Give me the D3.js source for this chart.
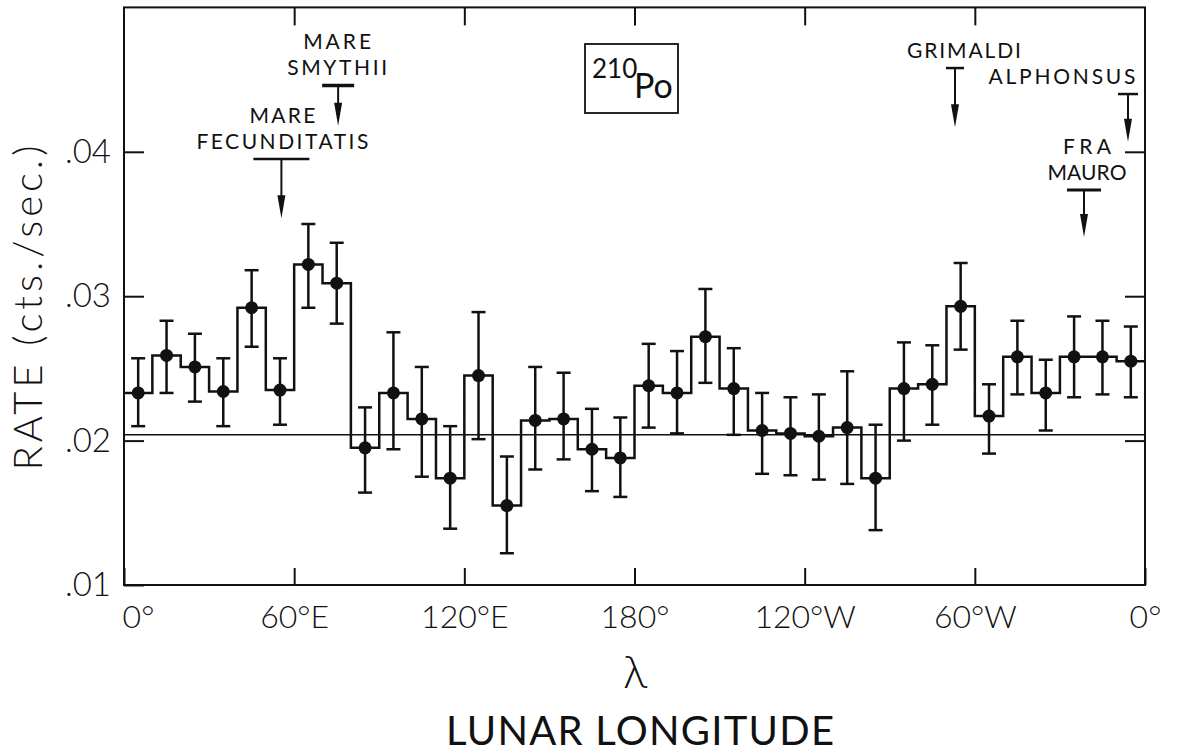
<!DOCTYPE html>
<html>
<head>
<meta charset="utf-8">
<script src="https://cdn.jsdelivr.net/npm/d3@7"></script>
<style>
  body { margin: 0; background: #fff; }
  text { font-family: Lato, "DejaVu Sans", sans-serif; font-weight: 300; fill: #111; }
  .lbl { font-weight: 400; }
</style>
</head>
<body>
<div id="chart"></div>
<script>
// lunar longitude, 0 -> 360 (east then west)
var lonTicks = [0, 60, 120, 180, 240, 300, 360];
var lonTickLabels = ["0°", "60°E", "120°E", "180°", "120°W", "60°W", "0°"];
var rateTicks = [0.01, 0.02, 0.03, 0.04];
var rateTickLabels = [".01", ".02", ".03", ".04"];

// 10 degree bins
var binCenters = [5, 15, 25, 35, 45, 55, 65, 75, 85, 95, 105, 115, 125, 135, 145, 155, 165, 175,
                  185, 195, 205, 215, 225, 235, 245, 255, 265, 275, 285, 295, 305, 315, 325, 335, 345, 355];
var rate = [.0233, .0259, .0251, .0234, .0292, .0235, .0322, .0309, .0195, .0233, .0215, .0174,
            .0245, .0155, .0214, .0215, .0194, .0188, .0238, .0233, .0272, .0236, .0207, .0205,
            .0203, .0209, .0174, .0236, .0239, .0293, .0217, .0258, .0233, .0258, .0258, .0255];
var rateHi = [.0257, .0283, .0274, .0257, .0318, .0257, .0350, .0337, .0223, .0275, .0251, .0210,
              .0289, .0189, .0251, .0247, .0222, .0216, .0267, .0262, .0305, .0264, .0233, .0230,
              .0232, .0248, .0211, .0268, .0266, .0323, .0239, .0283, .0256, .0286, .0283, .0279];
var rateLo = [.0210, .0233, .0227, .0210, .0265, .0211, .0292, .0281, .0164, .0194, .0175, .0139,
              .0201, .0122, .0180, .0187, .0165, .0161, .0209, .0205, .0240, .0204, .0177, .0176,
              .0173, .0170, .0138, .0200, .0211, .0263, .0191, .0232, .0207, .0230, .0232, .0230];
var meanRate = 0.0204;

// features marked with arrows
var craterNames = [["MARE", "FECUNDITATIS"], ["MARE", "SMYTHII"], ["GRIMALDI"], ["ALPHONSUS"], ["FRA", "MAURO"]];
var craterLon = [55.5, 75.5, 293, 354, 338.5];
var craterBar = [.0395, .0446, .0458, .0440, .03735];
var craterTip = [.0354, .0418, .0417, .0407, .0341];

var width = 1179, height = 756;

var svg = d3.select("#chart").append("svg")
    .attr("width", width).attr("height", height)
    .style("display", "block");

var x = d3.scaleLinear().domain([0, 360]).range([124, 1145]);
var y = d3.scaleLinear().domain([0.01, 0.05]).range([585, 7.4]);

// frame
svg.append("rect")
    .attr("x", x(0)).attr("y", y(0.05))
    .attr("width", x(360) - x(0)).attr("height", y(0.01) - y(0.05))
    .attr("fill", "none").attr("stroke", "#111").attr("stroke-width", 2);

// axes with inward ticks
var gLeft = svg.append("g").attr("transform", "translate(" + x(0) + ",0)")
    .call(d3.axisLeft(y).tickValues(rateTicks).tickSize(-20).tickPadding(13)
        .tickFormat(function(d, i) { return rateTickLabels[i]; }));
var gRight = svg.append("g").attr("transform", "translate(" + x(360) + ",0)")
    .call(d3.axisRight(y).tickValues(rateTicks.slice(1)).tickSize(-20).tickFormat(""));
var gBottom = svg.append("g").attr("transform", "translate(0," + y(0.01) + ")")
    .call(d3.axisBottom(x).tickValues(lonTicks).tickSize(-17).tickPadding(20)
        .tickFormat(function(d, i) { return lonTickLabels[i]; }));
var gTop = svg.append("g").attr("transform", "translate(0," + y(0.05) + ")")
    .call(d3.axisTop(x).tickValues(lonTicks.slice(1, -1)).tickSize(-18).tickFormat(""));

[gLeft, gRight, gBottom, gTop].forEach(function(g) {
  g.select(".domain").remove();
  g.selectAll(".tick line").attr("stroke", "#111").attr("stroke-width", 2);
});
gLeft.selectAll(".tick text").attr("font-size", 33).attr("fill", "#111")
    .style("font-family", "Lato, sans-serif");
gBottom.selectAll(".tick text").attr("font-size", 32).attr("fill", "#111")
    .style("font-family", "Lato, sans-serif")
    .attr("dx", function(d, i) { return i === 0 ? 14 : 0; });

// mean level
svg.append("line")
    .attr("x1", x(0)).attr("x2", x(360))
    .attr("y1", y(meanRate)).attr("y2", y(meanRate))
    .attr("stroke", "#111").attr("stroke-width", 1.5);

// histogram steps
var stepPts = [[0, rate[0]]];
binCenters.forEach(function(c, i) { stepPts.push([c, rate[i]]); });
stepPts.push([360, rate[rate.length - 1]]);
svg.append("path")
    .datum(stepPts)
    .attr("d", d3.line().x(function(d) { return x(d[0]); }).y(function(d) { return y(d[1]); }).curve(d3.curveStep))
    .attr("fill", "none").attr("stroke", "#111").attr("stroke-width", 2.5);

// error bars
var bars = svg.append("g").selectAll("g").data(binCenters).enter().append("g");
bars.append("line")
    .attr("x1", function(d) { return x(d); }).attr("x2", function(d) { return x(d); })
    .attr("y1", function(d, i) { return y(rateLo[i]); })
    .attr("y2", function(d, i) { return y(rateHi[i]); })
    .attr("stroke", "#111").attr("stroke-width", 2.5);
bars.append("line")
    .attr("x1", function(d) { return x(d) - 7; }).attr("x2", function(d) { return x(d) + 7; })
    .attr("y1", function(d, i) { return y(rateHi[i]); })
    .attr("y2", function(d, i) { return y(rateHi[i]); })
    .attr("stroke", "#111").attr("stroke-width", 2.5);
bars.append("line")
    .attr("x1", function(d) { return x(d) - 7; }).attr("x2", function(d) { return x(d) + 7; })
    .attr("y1", function(d, i) { return y(rateLo[i]); })
    .attr("y2", function(d, i) { return y(rateLo[i]); })
    .attr("stroke", "#111").attr("stroke-width", 2.5);
bars.append("circle")
    .attr("cx", function(d) { return x(d); })
    .attr("cy", function(d, i) { return y(rate[i]); })
    .attr("r", 6.5).attr("fill", "#111");

// arrows + labels
var barHalf = [28, 16, 9, 10, 17];
var barW = [2.5, 3.5, 2.5, 2.5, 3];
var labelDx = [1, -1, 9, -66, 3];
var labelLen = [[66, 172], [68, 100], [114], [147], [48, 79]];
var g = svg.append("g");
craterNames.forEach(function(lines, i) {
  var cx = x(craterLon[i]), by = y(craterBar[i]), ty = y(craterTip[i]);
  g.append("line").attr("x1", cx - barHalf[i]).attr("x2", cx + barHalf[i])
      .attr("y1", by).attr("y2", by).attr("stroke", "#111").attr("stroke-width", barW[i]);
  g.append("line").attr("x1", cx).attr("x2", cx).attr("y1", by).attr("y2", ty - 10)
      .attr("stroke", "#111").attr("stroke-width", 2);
  g.append("path")
      .attr("d", "M" + (cx - 4) + "," + (ty - 23) + "L" + (cx + 4) + "," + (ty - 23) + "L" + cx + "," + ty + "Z")
      .attr("fill", "#111");
  lines.forEach(function(t, j) {
    var n = lines.length;
    g.append("text").attr("class", "lbl")
        .attr("x", cx + labelDx[i]).attr("y", by - 10 - (n - 1 - j) * 26)
        .attr("text-anchor", "middle").attr("font-size", 21)
        .attr("textLength", labelLen[i][j]).attr("lengthAdjust", "spacing")
        .text(t);
  });
});

// isotope box
svg.append("rect").attr("x", 585).attr("y", 44).attr("width", 93).attr("height", 69)
    .attr("fill", "none").attr("stroke", "#111").attr("stroke-width", 1.8);
svg.append("text").attr("class", "lbl").attr("x", 592).attr("y", 78).attr("font-size", 26).text("210");
svg.append("text").attr("class", "lbl").attr("x", 634).attr("y", 98).attr("font-size", 34).text("Po");

// axis titles
svg.append("text")
    .attr("transform", "translate(42,308) rotate(-90)")
    .attr("text-anchor", "middle").attr("font-size", 40)
    .attr("textLength", 325).attr("lengthAdjust", "spacing")
    .text("RATE (cts./sec.)");
svg.append("text")
    .attr("x", 635).attr("y", 688).attr("text-anchor", "middle").attr("font-size", 46)
    .text("λ");
svg.append("text").attr("class", "lbl")
    .attr("x", 640).attr("y", 745).attr("text-anchor", "middle").attr("font-size", 40)
    .attr("textLength", 388).attr("lengthAdjust", "spacing")
    .text("LUNAR LONGITUDE");
</script>
</body>
</html>
